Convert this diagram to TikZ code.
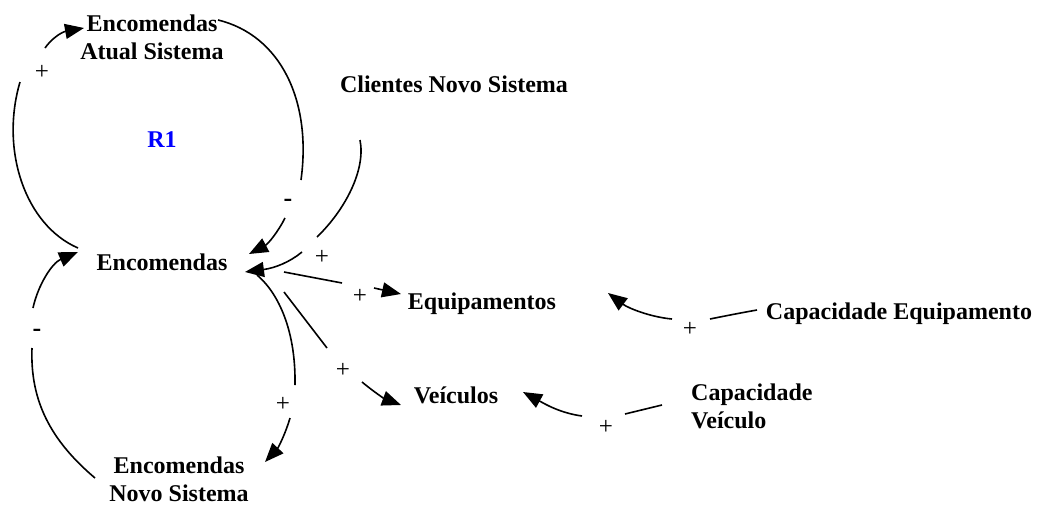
\documentclass[tikz,border=0pt]{standalone}
\usepackage{fontspec}
\setmainfont{Liberation Serif}
\usetikzlibrary{arrows.meta}
\begin{document}
\begin{tikzpicture}[x=1pt,y=-1pt,
  var/.style={inner sep=0pt,font=\fontsize{24}{28}\selectfont\bfseries,align=center},
  pol/.style={inner sep=0pt,font=\fontsize{25}{25}\selectfont},
  neg/.style={inner sep=0pt,font=\fontsize{26}{26}\selectfont\bfseries},
  link/.style={line width=1.6pt},
  arr/.style={line width=1.6pt,-{Triangle[length=19pt,width=15pt]}}]
\useasboundingbox (0,0) rectangle (1037,506);
% variables
\node[var] (eas) at (152,37) {Encomendas\\Atual Sistema};
\node[var,text=blue] (r1) at (162,140) {R1};
\node[var] (cns) at (454,84) {Clientes Novo Sistema};
\node[var] (enc) at (162,262) {Encomendas};
\node[var] (equip) at (482,304) {Equipamentos};
\node[var] (cape) at (899,314) {Capacidade Equipamento};
\node[var] (veic) at (456,395) {Veículos};
\node[var,align=left,anchor=west] (capv) at (691,406) {Capacidade\\Veículo};
\node[var] (ens) at (179,479) {Encomendas\\Novo Sistema};
% link end points
\coordinate (a1) at (78,248);  \coordinate (a2) at (20,82);  \coordinate (a3) at (45,48);  \coordinate (a4) at (84,28);
\coordinate (b1) at (218,20);  \coordinate (b2) at (301,180); \coordinate (b3) at (285,218); \coordinate (b4) at (249,254);
\coordinate (c1) at (360,140); \coordinate (c2) at (317,237); \coordinate (c3) at (302,252); \coordinate (c4) at (245,272);
\coordinate (d1) at (284,272); \coordinate (d2) at (342,283); \coordinate (d3) at (374,288); \coordinate (d4) at (401,294);
\coordinate (e1) at (284,292); \coordinate (e2) at (327,348); \coordinate (e3) at (362,382); \coordinate (e4) at (401,405);
\coordinate (f1) at (257,275); \coordinate (f2) at (295,385); \coordinate (f3) at (290,418); \coordinate (f4) at (265,462);
\coordinate (g1) at (95,478);  \coordinate (g2) at (32,348);  \coordinate (g3) at (33,308);  \coordinate (g4) at (78,252);
\coordinate (h1) at (757,310); \coordinate (h2) at (710,319); \coordinate (h3) at (672,319); \coordinate (h4) at (608,293);
\coordinate (k1) at (662,405); \coordinate (k2) at (625,414); \coordinate (k3) at (582,416); \coordinate (k4) at (523,392);
% Encomendas -> Encomendas Atual Sistema
\draw[link] (a1) .. controls (25,225) and (0,150) .. (a2);
\draw[arr] (a3) .. controls (52,38) and (62,32) .. (a4);
\node[pol] (p1) at (42,72) {+};
% Encomendas Atual Sistema -> Encomendas
\draw[link] (b1) .. controls (280,35) and (312,100) .. (b2);
\draw[arr] (b3) .. controls (278,232) and (268,244) .. (b4);
\node[neg] (p2) at (288,203) {-};
% Clientes Novo Sistema -> Encomendas
\draw[link] (c1) .. controls (366,170) and (345,210) .. (c2);
\draw[arr] (c3) .. controls (290,262) and (275,268) .. (c4);
\node[pol] (p3) at (322,257) {+};
% Encomendas -> Equipamentos
\draw[link] (d1) -- (d2);
\draw[arr] (d3) -- (d4);
\node[pol] (p4) at (360,296) {+};
% Encomendas -> Veiculos
\draw[link] (e1) -- (e2);
\draw[arr] (e3) .. controls (374,392) and (385,399) .. (e4);
\node[pol] (p5) at (343,370) {+};
% Encomendas -> Encomendas Novo Sistema
\draw[link] (f1) .. controls (275,290) and (296,325) .. (f2);
\draw[arr] (f3) .. controls (285,435) and (278,448) .. (f4);
\node[pol] (p6) at (283,404) {+};
% Encomendas Novo Sistema -> Encomendas
\draw[link] (g1) .. controls (50,440) and (30,400) .. (g2);
\draw[arr] (g3) .. controls (38,285) and (52,263) .. (g4);
\node[neg] (p7) at (37,333) {-};
% Capacidade Equipamento -> Equipamentos
\draw[link] (h1) .. controls (740,313) and (725,316) .. (h2);
\draw[arr] (h3) .. controls (650,317) and (628,308) .. (h4);
\node[pol] (p8) at (690,329) {+};
% Capacidade Veiculo -> Veiculos
\draw[link] (k1) -- (k2);
\draw[arr] (k3) .. controls (560,413) and (545,404) .. (k4);
\node[pol] (p9) at (606,427) {+};
\end{tikzpicture}
\end{document}
